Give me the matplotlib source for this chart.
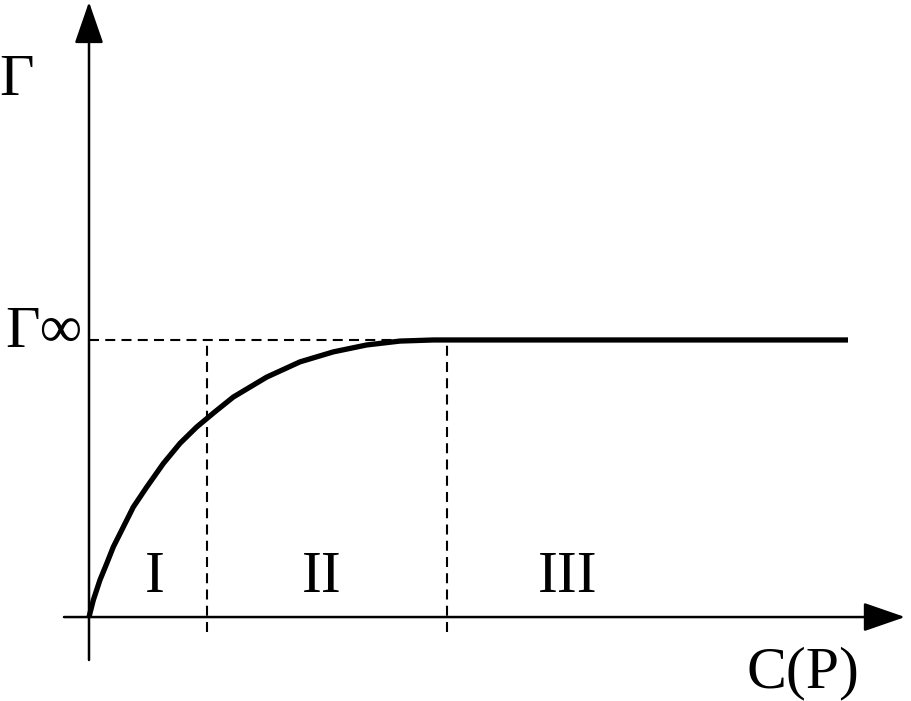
import matplotlib
matplotlib.use("Agg")
import matplotlib.pyplot as plt

# curve: concentration (arb.) vs adsorption Gamma / Gamma_inf
conc = [0.0, 0.043, 0.11, 0.177, 0.243, 0.343, 0.443, 0.577, 0.743, 0.91, 1.077,
        1.25, 1.443, 1.777, 2.11, 2.443, 2.777, 3.11, 3.443, 3.58, 7.59]
gamma = [0.0, 0.061, 0.134, 0.193, 0.253, 0.325, 0.397, 0.469, 0.554, 0.627, 0.686,
         0.738, 0.794, 0.866, 0.921, 0.957, 0.982, 0.996, 1.0, 1.0, 1.0]
boundaries = [1.18, 3.58]
region_labels = ["I", "II", "III"]
region_x = [0.66, 2.33, 4.79]
gamma_inf = 1.0

fig = plt.figure(figsize=(9.11, 7.01), dpi=100)
ax = fig.add_axes([0, 0, 1, 1])
ax.set_xlim(-0.89, 8.22)
ax.set_ylim(-0.303, 2.227)
ax.axis("off")

serif = ["Liberation Serif", "DejaVu Serif"]
fs = 43

# axes arrows
ax.annotate("", xy=(8.16, 0), xytext=(-0.25, 0),
            arrowprops=dict(arrowstyle="-|>,head_length=1.3,head_width=0.45", lw=1.8, color="black",
                            shrinkA=0, shrinkB=0, mutation_scale=20))
ax.annotate("", xy=(0, 2.22), xytext=(0, -0.155),
            arrowprops=dict(arrowstyle="-|>,head_length=1.3,head_width=0.45", lw=1.8, color="black",
                            shrinkA=0, shrinkB=0, mutation_scale=20))

# dashed guide lines
ax.plot([0, boundaries[1]], [gamma_inf, gamma_inf], ls=(0, (4.8, 3)), lw=1.5, color="black")
for b in boundaries:
    ax.plot([b, b], [-0.054, gamma_inf], ls=(0, (4.8, 3)), lw=1.5, color="black")

# curve
ax.plot(conc, gamma, color="black", lw=3.8, solid_joinstyle="round", solid_capstyle="butt")

# labels
for lab, xv in zip(region_labels, region_x):
    ax.text(xv, 0.091, lab, fontsize=fs, family=serif, ha="center", va="baseline")
ax.text(-0.72, 1.884, "Γ", fontsize=fs, family=serif, ha="center", va="baseline")
ax.text(-0.45, 0.976, "Γ∞", fontsize=fs, family=serif, ha="center", va="baseline")
ax.text(7.14, -0.252, "C(P)", fontsize=fs, family=serif, ha="center", va="baseline")

fig.savefig("out.png", dpi=100)
